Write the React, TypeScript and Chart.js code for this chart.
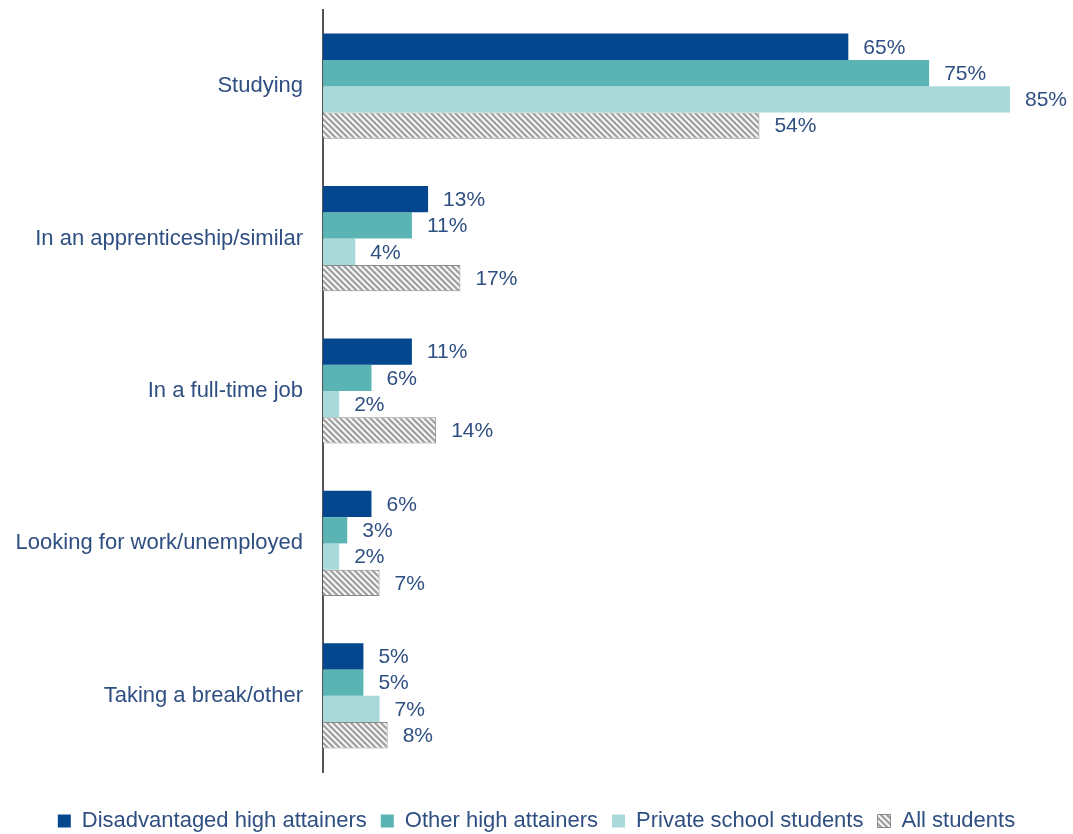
import React, { useEffect, useRef } from "react";
import { Chart, registerables } from "chart.js";

Chart.register(...registerables);

const categories = [
  "Studying",
  "In an apprenticeship/similar",
  "In a full-time job",
  "Looking for work/unemployed",
  "Taking a break/other",
];
const disadvantaged = [65, 13, 11, 6, 5];
const otherHigh = [75, 11, 6, 3, 5];
const privateSchool = [85, 4, 2, 2, 7];
const allStudents = [54, 17, 14, 7, 8];
const seriesNames = [
  "Disadvantaged high attainers",
  "Other high attainers",
  "Private school students",
  "All students",
];

const FONT = "'Liberation Sans', Arial, sans-serif";
const TEXT = "#2f4f82";

function makeHatch(): CanvasPattern | string {
  const n = 6;
  const c = document.createElement("canvas");
  c.width = n;
  c.height = n;
  const g = c.getContext("2d");
  if (!g) return "#aaa";
  g.fillStyle = "#ffffff";
  g.fillRect(0, 0, n, n);
  g.strokeStyle = "#a3a3a3";
  g.lineWidth = 2.4;
  g.beginPath();
  g.moveTo(-2, -2);
  g.lineTo(n + 2, n + 2);
  g.moveTo(-2, n - 2);
  g.lineTo(2, n + 2);
  g.moveTo(n - 2, -2);
  g.lineTo(n + 2, 2);
  g.stroke();
  const p = g.createPattern(c, "repeat");
  return p || "#aaa";
}

const valueLabels = {
  id: "valueLabels",
  afterDatasetsDraw(chart: any) {
    const ctx = chart.ctx;
    ctx.save();
    ctx.font = `21px ${FONT}`;
    ctx.fillStyle = TEXT;
    ctx.textAlign = "left";
    ctx.textBaseline = "middle";
    chart.data.datasets.forEach((ds: any, i: number) => {
      const meta = chart.getDatasetMeta(i);
      meta.data.forEach((bar: any, j: number) => {
        ctx.fillText(ds.data[j] + "%", bar.x + 15, bar.y + 1);
      });
    });
    ctx.restore();
  },
};

const shiftLegend = {
  id: "shiftLegend",
  afterLayout(chart: any) {
    const lg = chart.legend;
    if (lg) {
      lg.top += 8;
      lg.bottom += 8;
    }
  },
};

export default function App() {
  const ref = useRef<HTMLCanvasElement>(null);
  useEffect(() => {
    if (!ref.current) return;
    const hatch = makeHatch();
    const chart = new Chart(ref.current, {
      type: "bar",
      data: {
        labels: categories,
        datasets: [
          { label: seriesNames[0], data: disadvantaged, backgroundColor: "#05478f", borderWidth: 0 },
          { label: seriesNames[1], data: otherHigh, backgroundColor: "#5ab4b4", borderWidth: 0 },
          { label: seriesNames[2], data: privateSchool, backgroundColor: "#aad9da", borderWidth: 0 },
          { label: seriesNames[3], data: allStudents, backgroundColor: hatch as any, borderColor: "#8a8a8a", borderWidth: 1 },
        ],
      },
      options: {
        indexAxis: "y",
        animation: false,
        responsive: true,
        maintainAspectRatio: false,
        layout: { padding: { top: 10, right: 0, left: 0, bottom: 0 } },
        datasets: { bar: { barPercentage: 1, categoryPercentage: 0.69 } },
        scales: {
          x: {
            display: true,
            min: 0,
            max: 92.8,
            grid: { display: false, drawTicks: false },
            border: { display: false },
            ticks: { display: false },
            afterFit: (s: any) => { s.height = 16; s.paddingLeft = 0; s.paddingRight = 0; },
          },
          y: {
            grid: { display: false, drawTicks: false },
            border: { display: true, color: "#555555", width: 2 },
            ticks: { color: TEXT, font: { family: FONT, size: 22 }, padding: 20 },
            afterFit: (s: any) => { s.width = 323; s.paddingTop = 0; s.paddingBottom = 0; },
          },
        },
        plugins: {
          tooltip: { enabled: false },
          legend: {
            position: "bottom",
            labels: {
              color: TEXT,
              font: { family: FONT, size: 22 },
              boxWidth: 13,
              boxHeight: 13,
              padding: 14,
            },
          },
        },
      },
      plugins: [valueLabels, shiftLegend],
    });
    return () => chart.destroy();
  }, []);
  return (
    <div style={{ position: "absolute", left: 0, top: 0, width: 1073, height: 834, background: "#fff" }}>
      <canvas ref={ref} />
    </div>
  );
}
